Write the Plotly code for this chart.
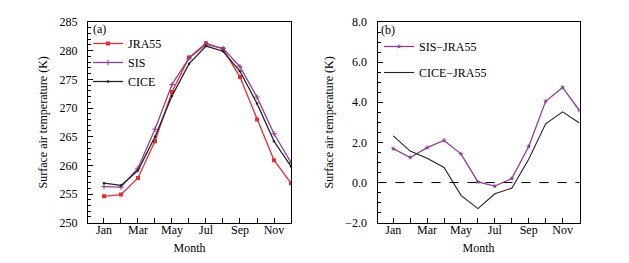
import plotly.graph_objects as go

months = list(range(1, 13))
month_labels = ["Jan", "", "Mar", "", "May", "", "Jul", "", "Sep", "", "Nov", ""]

jra55 = [254.6, 254.9, 257.8, 264.2, 272.8, 278.8, 281.3, 280.3, 275.4, 268.0, 260.9, 256.9]
sis = [256.3, 256.2, 259.5, 266.3, 274.1, 278.7, 281.1, 280.4, 277.2, 271.9, 265.5, 260.5]
cice = [256.9, 256.5, 259.1, 265.0, 272.1, 277.7, 280.8, 279.9, 276.4, 270.8, 264.2, 259.8]

sis_minus_jra = [1.69, 1.25, 1.74, 2.10, 1.43, 0.03, -0.18, 0.20, 1.80, 4.05, 4.74, 3.59]
cice_minus_jra = [2.33, 1.57, 1.21, 0.75, -0.64, -1.30, -0.56, -0.28, 1.16, 2.93, 3.52, 2.97]

RED = "#ec2a30"
PURPLE = "#8e3d93"
BLACK = "#222222"
FONT = "Liberation Serif"

# page body has an 8px margin; size the figure so the page fits the window
OFF = 8
W, H = 629 - 2 * OFF, 263 - 2 * OFF


def fx(px):
    return (px - OFF) / W


def fy(py):
    return 1 - (py - OFF) / H


fig = go.Figure()

fig.add_trace(go.Scatter(x=months, y=jra55, name="JRA55", mode="lines+markers",
                         line=dict(color=RED, width=1.3), marker=dict(symbol="square", size=4, color=RED),
                         xaxis="x", yaxis="y", legend="legend"))
fig.add_trace(go.Scatter(x=months, y=sis, name="SIS", mode="lines+markers",
                         line=dict(color=PURPLE, width=1.3), marker=dict(symbol="cross-thin", size=4, line=dict(color=PURPLE, width=1)),
                         xaxis="x", yaxis="y", legend="legend"))
fig.add_trace(go.Scatter(x=months, y=cice, name="CICE", mode="lines+markers",
                         line=dict(color=BLACK, width=1.3), marker=dict(symbol="circle", size=2.5, color=BLACK),
                         xaxis="x", yaxis="y", legend="legend"))

fig.add_trace(go.Scatter(x=months, y=sis_minus_jra, name="SIS\u2212JRA55", mode="lines+markers",
                         line=dict(color=PURPLE, width=1.3), marker=dict(symbol="star", size=4, color=PURPLE),
                         xaxis="x2", yaxis="y2", legend="legend2", legendgroup="g1"))
fig.add_trace(go.Scatter(x=months, y=cice_minus_jra, name="CICE\u2212JRA55", mode="lines",
                         line=dict(color=BLACK, width=1.1),
                         xaxis="x2", yaxis="y2", legend="legend2", legendgroup="g2"))

axis_common = dict(showline=True, linecolor="black", linewidth=1, mirror=True, automargin=False,
                   ticks="inside", ticklen=5, tickcolor="black", showgrid=False, zeroline=False,
                   tickfont=dict(family=FONT, size=12, color="black"))

ydom = [fy(222.7), fy(22)]

xtitle = dict(text="Month", font=dict(family=FONT, size=12), standoff=7)
ytitle = dict(text="Surface air temperature (K)", font=dict(family=FONT, size=12), standoff=9)

fig.update_layout(
    template="none",
    width=W, height=H,
    margin=dict(l=0, r=0, t=0, b=0),
    paper_bgcolor="white", plot_bgcolor="white",
    font=dict(family=FONT, size=12, color="black"),
    xaxis=dict(domain=[fx(88), fx(291)], range=[0.06, 12], tickvals=months, ticktext=month_labels,
               anchor="y", title=xtitle, ticklabelstandoff=-4, **axis_common),
    yaxis=dict(domain=ydom, range=[250, 285], tickvals=[250, 255, 260, 265, 270, 275, 280, 285],
               anchor="x",
               minor=dict(dtick=1, ticks="inside", ticklen=3, tickcolor="black"),
               title=ytitle, ticklabelstandoff=7, **axis_common),
    xaxis2=dict(domain=[fx(377.5), fx(579.5)], range=[0.07, 12], tickvals=months, ticktext=month_labels,
                anchor="y2", title=xtitle, ticklabelstandoff=-4, **axis_common),
    yaxis2=dict(domain=ydom, range=[-2, 8], tickvals=[-2, 0, 2, 4, 6, 8], tickformat=".1f",
                anchor="x2",
                minor=dict(dtick=0.5, ticks="inside", ticklen=3, tickcolor="black"),
                title=ytitle, ticklabelstandoff=7, **axis_common),
    legend=dict(x=fx(88), y=fy(29), xanchor="left", yanchor="top", bgcolor="rgba(0,0,0,0)",
                font=dict(family=FONT, size=12), tracegroupgap=0),
    legend2=dict(x=fx(379), y=fy(32), xanchor="left", yanchor="top", bgcolor="rgba(0,0,0,0)",
                 font=dict(family=FONT, size=12), tracegroupgap=7),
    showlegend=True,
)

fig.add_shape(type="line", xref="x2 domain", yref="y2", x0=0, x1=1, y0=0, y1=0,
              line=dict(color="black", width=1, dash="dash"))

fig.add_annotation(text="(a)", xref="paper", yref="paper", x=fx(91), y=fy(29.5),
                   xanchor="left", yanchor="middle", showarrow=False, font=dict(family=FONT, size=12))
fig.add_annotation(text="(b)", xref="paper", yref="paper", x=fx(379), y=fy(30),
                   xanchor="left", yanchor="middle", showarrow=False, font=dict(family=FONT, size=12))

fig.write_html("out.html")
